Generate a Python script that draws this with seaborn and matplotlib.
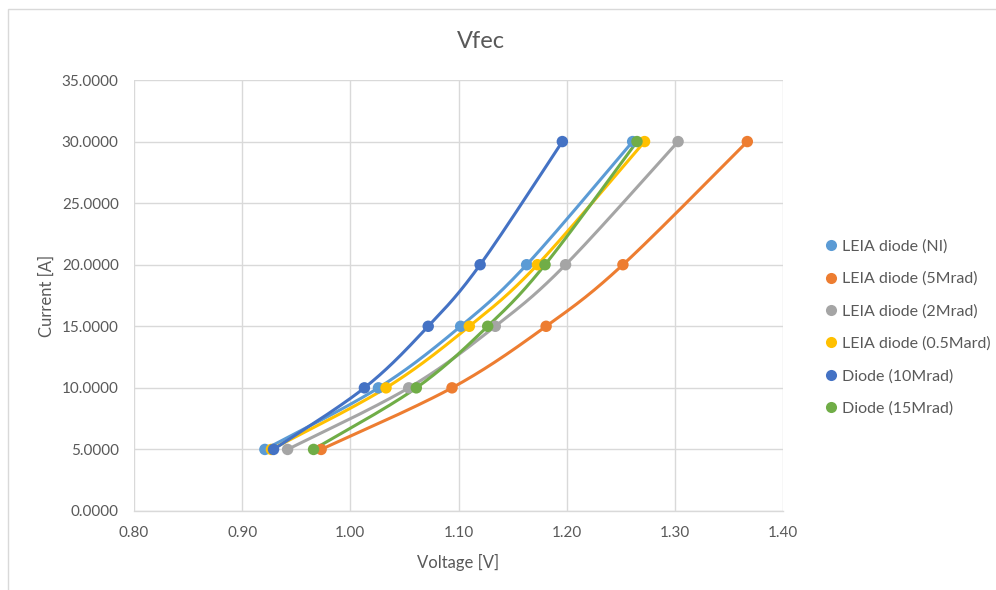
import numpy as np
import pandas as pd
import matplotlib
matplotlib.use("Agg")
import matplotlib.pyplot as plt
import seaborn as sns
from matplotlib.lines import Line2D
from matplotlib.patches import Rectangle

# Measured forward voltage vs current
current = [5, 10, 15, 20, 30]
series_names = [
    "LEIA diode (NI)",
    "LEIA diode (5Mrad)",
    "LEIA diode (2Mrad)",
    "LEIA diode (0.5Mard)",
    "Diode (10Mrad)",
    "Diode (15Mrad)",
]
v_leia_ni = [0.921, 1.026, 1.102, 1.163, 1.261]
v_leia_5mrad = [0.973, 1.094, 1.181, 1.252, 1.367]
v_leia_2mrad = [0.942, 1.054, 1.134, 1.199, 1.303]
v_leia_05mrad = [0.927, 1.033, 1.110, 1.173, 1.272]
v_diode_10mrad = [0.929, 1.013, 1.072, 1.120, 1.196]
v_diode_15mrad = [0.966, 1.061, 1.127, 1.180, 1.265]
voltages = [v_leia_ni, v_leia_5mrad, v_leia_2mrad, v_leia_05mrad,
            v_diode_10mrad, v_diode_15mrad]
colors = ["#5B9BD5", "#ED7D31", "#A5A5A5", "#FFC000", "#4472C4", "#70AD47"]

x_ticks = [0.80, 0.90, 1.00, 1.10, 1.20, 1.30, 1.40]
y_ticks = [0, 5, 10, 15, 20, 25, 30, 35]


def smooth(xs, ys, n=40):
    """Smoothed curve through the points (cubic Bezier, Catmull-Rom style)."""
    p = np.column_stack([xs, ys]).astype(float)
    out = []
    for i in range(len(p) - 1):
        p0 = p[i - 1] if i > 0 else p[i]
        p1, p2 = p[i], p[i + 1]
        p3 = p[i + 2] if i + 2 < len(p) else p[i + 1]
        c1 = p1 + (p2 - p0) / 6.0
        c2 = p2 - (p3 - p1) / 6.0
        t = np.linspace(0, 1, n)[:, None]
        seg = ((1 - t) ** 3) * p1 + 3 * ((1 - t) ** 2) * t * c1 \
            + 3 * (1 - t) * t ** 2 * c2 + t ** 3 * p2
        out.append(seg if i == 0 else seg[1:])
    return np.vstack(out)


points = pd.DataFrame(
    [(name, v, c) for name, vs in zip(series_names, voltages)
     for v, c in zip(vs, current)],
    columns=["series", "voltage", "current"],
)
curve_rows = []
for name, vs in zip(series_names, voltages):
    sm = smooth(vs, current)
    for k, (x, y) in enumerate(sm):
        curve_rows.append((name, k, x, y))
curves = pd.DataFrame(curve_rows, columns=["series", "order", "voltage", "current"])

sns.set_theme(style="white")
plt.rcParams["font.family"] = ["Lato", "DejaVu Sans"]

fig = plt.figure(figsize=(9.96, 5.9), dpi=100)
ax = fig.add_axes([134 / 996, 1 - 511 / 590, (783 - 134) / 996, (511 - 80) / 590])

palette = dict(zip(series_names, colors))
for name in series_names:
    sns.lineplot(data=curves[curves.series == name], x="voltage", y="current",
                 color=palette[name], sort=False, estimator=None,
                 linewidth=2.2, ax=ax, legend=False, zorder=3)
    sns.scatterplot(data=points[points.series == name], x="voltage", y="current",
                    color=palette[name], s=68, edgecolor="none", ax=ax,
                    legend=False, zorder=4)

ax.set_xlim(0.8, 1.4)
ax.set_ylim(0, 35)
ax.set_xticks(x_ticks)
ax.set_yticks(y_ticks)
ax.set_xticklabels([f"{t:.2f}" for t in x_ticks])
ax.set_yticklabels([f"{t:.4f}" for t in y_ticks])
ax.grid(True, color="#D9D9D9", linewidth=1)
ax.set_axisbelow(True)
for side in ["left", "right", "top"]:
    ax.spines[side].set_visible(False)
ax.spines["bottom"].set_color("#D9D9D9")
ax.spines["bottom"].set_linewidth(1)
ax.tick_params(axis="both", colors="#595959", labelsize=11, length=0, pad=11)

ax.set_xlabel("Voltage [V]", fontsize=12, color="#595959", labelpad=10)
ax.set_ylabel("Current [A]", fontsize=12, color="#595959", labelpad=5)
fig.text(481 / 996, 1 - 42 / 590, "Vfec", ha="center", va="center",
         fontsize=17, color="#595959")

handles = [Line2D([0], [0], marker="o", linestyle="none", markersize=8,
                  markerfacecolor=c, markeredgecolor="none") for c in colors]
fig.legend(handles, series_names, loc="upper left",
           bbox_to_anchor=(807 / 996, 1 - 225 / 590), frameon=False,
           fontsize=11.5, labelcolor="#595959", handletextpad=0.1,
           labelspacing=1.13, handlelength=1.2)

# chart area border
fig.patches.append(Rectangle((8 / 996, -0.1), 1.2, 1 - 9 / 590 + 0.1,
                             transform=fig.transFigure, fill=False,
                             edgecolor="#D9D9D9", linewidth=1))

fig.savefig("out.png", dpi=100)
